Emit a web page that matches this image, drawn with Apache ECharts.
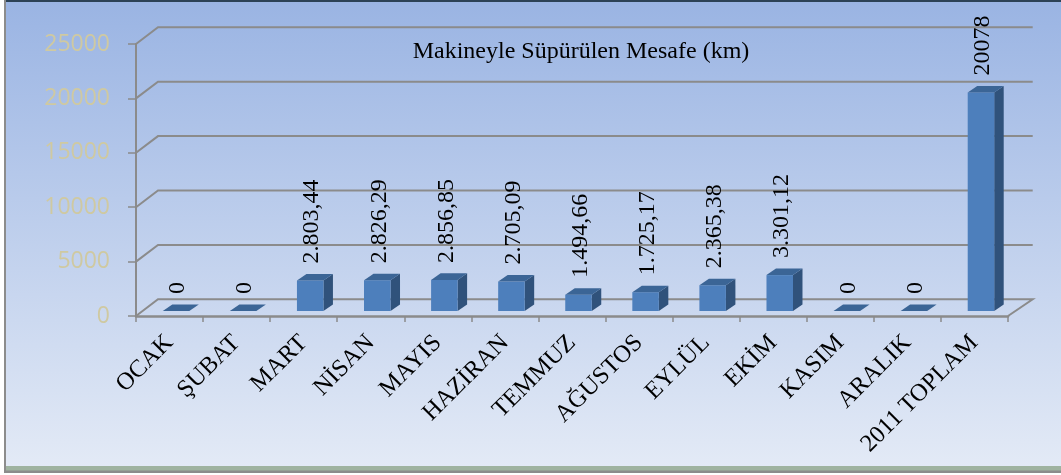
<!DOCTYPE html>
<html><head><meta charset="utf-8">
<style>html,body{margin:0;padding:0;background:#fff}#c{width:1061px;height:475px}</style>
<script src="https://cdn.jsdelivr.net/npm/echarts@6/dist/echarts.min.js"></script>
</head><body><div id="c"></div>
<script>
const categories = ['OCAK','ŞUBAT','MART','NİSAN','MAYIS','HAZİRAN','TEMMUZ','AĞUSTOS','EYLÜL','EKİM','KASIM','ARALIK','2011 TOPLAM'];
const values = [0,0,2803.44,2826.29,2856.85,2705.09,1494.66,1725.17,2365.38,3301.12,0,0,20078];
const valueLabels = ['0','0','2.803,44','2.826,29','2.856,85','2.705,09','1.494,66','1.725,17','2.365,38','3.301,12','0','0','20078'];
const yTicks = [0,5000,10000,15000,20000,25000];
const chartTitle = 'Makineyle Süpürülen Mesafe (km)';

const SERIF = '"Liberation Serif","Times New Roman",serif';
const GRID = '#8b8b8b';
const WALL_DX0 = 22, WALL_DX1 = 24.7, WALL_DY = -16.7;
const BAR_W = 26.5, BAR_DX = 9.5, BAR_DY = -6.6, BAR_SHIFT_X = 6.5, BAR_SHIFT_Y = -5;

const chart = echarts.init(document.getElementById('c'));
chart.setOption({
  animation:false,
  backgroundColor:'#ffffff',
  graphic:[
    {type:'rect',z:-10,silent:true,shape:{x:4,y:0,width:1057,height:473},style:{fill:'#8c8c8c'}},
    {type:'rect',z:-9,silent:true,shape:{x:6,y:1,width:1055,height:466},style:{fill:{type:'linear',x:0,y:0,x2:0,y2:1,colorStops:[{offset:0,color:'#9ab4e3'},{offset:1,color:'#e3eaf6'}]}}},
    {type:'rect',z:-8,silent:true,shape:{x:6,y:0,width:1055,height:2},style:{fill:'#2c4256'}},
    {type:'rect',z:-8,silent:true,shape:{x:6,y:466,width:1055,height:4.5},style:{fill:'#9fb3a0'}},
    {type:'text',z:20,silent:true,style:{x:581,y:52,text:chartTitle,fill:'#000',font:'24px '+SERIF,align:'center',verticalAlign:'middle'}}
  ],
  grid:{left:136,top:44,width:872,height:272,containLabel:false},
  xAxis:{type:'category',data:categories,
    axisLine:{lineStyle:{color:GRID,width:2.5}},
    axisTick:{show:true,length:6,lineStyle:{color:GRID,width:1.5},alignWithLabel:false},
    axisLabel:{interval:0,rotate:45,margin:23,padding:[5,0,0,0],color:'#000',fontFamily:SERIF,fontSize:24.5,hideOverlap:false}},
  yAxis:{type:'value',min:0,max:25000,interval:5000,
    axisLine:{show:true,lineStyle:{color:GRID,width:2}},
    axisTick:{show:true,length:8,lineStyle:{color:GRID,width:1.5}},
    splitLine:{show:false},
    axisLabel:{margin:26,padding:[3,0,0,0],color:'#cfc9a1',fontFamily:'"Open Sans"',fontSize:23,formatter:v=>String(v)}},
  series:[
    {type:'custom',z:1,silent:true,data:yTicks.map(v=>[0,v]),
     renderItem(params,api){
       const cs=params.coordSys, y=api.coord([0,api.value(1)])[1];
       const l=cs.x, r=cs.x+cs.width;
       const style={stroke:GRID,lineWidth:2,fill:null};
       const pts=[[l,y],[l+WALL_DX0,y+WALL_DY],[r+WALL_DX1,y+WALL_DY]];
       if(api.value(1)===0) pts.push([r,y]);
       return {type:'polyline',shape:{points:pts},style};
     }},
    {type:'custom',z:3,silent:true,data:values.map((v,i)=>[i,v]),
     renderItem(params,api){
       const p=api.coord([api.value(0),api.value(1)]), b=api.coord([api.value(0),0]);
       const x0=p[0]+BAR_SHIFT_X-BAR_W/2, x1=x0+BAR_W, yt=p[1]+BAR_SHIFT_Y, yb=b[1]+BAR_SHIFT_Y;
       const ch=[];
       if(yb-yt>0.5){
         ch.push({type:'polygon',shape:{points:[[x1,yt],[x1+BAR_DX,yt+BAR_DY],[x1+BAR_DX,yb+BAR_DY],[x1,yb]]},style:{fill:'#30527b'}});
         ch.push({type:'rect',shape:{x:x0,y:yt,width:BAR_W,height:yb-yt},style:{fill:'#4d7fbc'}});
       }
       ch.push({type:'polygon',shape:{points:[[x0,yt],[x0+BAR_DX,yt+BAR_DY],[x1+BAR_DX,yt+BAR_DY],[x1,yt]]},style:{fill:'#3b6596'}});
       return {type:'group',children:ch};
     }},
    {type:'custom',z:4,silent:true,data:values.map((v,i)=>[i,v]),
     renderItem(params,api){
       const p=api.coord([api.value(0),api.value(1)]);
       return {type:'text',x:p[0]+BAR_SHIFT_X+2,y:p[1]+BAR_SHIFT_Y-17,rotation:Math.PI/2,
         style:{text:valueLabels[params.dataIndex],fill:'#000',font:'24px '+SERIF,align:'left',verticalAlign:'middle'}};
     }}
  ]
});
</script></body></html>
